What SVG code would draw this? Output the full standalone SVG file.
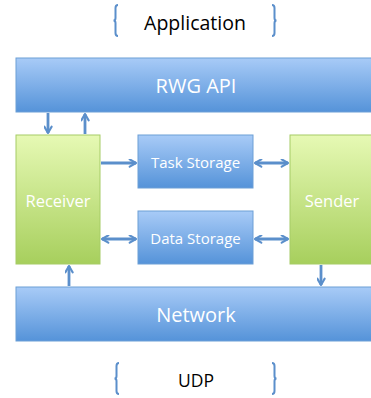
<svg xmlns="http://www.w3.org/2000/svg" width="371" height="398" viewBox="0 0 371 398">
<defs>
<linearGradient id="gb" x1="0" y1="0" x2="0" y2="1">
<stop offset="0" stop-color="#a8cbf7"/>
<stop offset="1" stop-color="#5593d9"/>
</linearGradient>
<linearGradient id="gg" x1="0" y1="0" x2="0" y2="1">
<stop offset="0" stop-color="#e6f9b4"/>
<stop offset="1" stop-color="#a7cf5d"/>
</linearGradient>
<marker id="ah" viewBox="0 0 10 10" refX="9" refY="5" markerWidth="9" markerHeight="9" orient="auto-start-reverse" markerUnits="userSpaceOnUse">
<path d="M2,1 L9,5 L2,9" fill="none" stroke="#5b8fcb" stroke-width="2.4" stroke-linecap="round" stroke-linejoin="round"/>
</marker>
</defs>
<style>
.blue{fill:url(#gb);stroke:#6d9fd6;stroke-width:1}
.green{fill:url(#gg);stroke:#a6cc66;stroke-width:1}
.wt{fill:#ffffff;font-family:"Open Sans","Liberation Sans",sans-serif;text-anchor:middle}
.bt{fill:#000000;font-family:"Open Sans","Liberation Sans",sans-serif;text-anchor:middle}
.brace{fill:none;stroke:#5b8fcb;stroke-width:2}
.conn{fill:none;stroke:#5b8fcb;stroke-width:2.8}
</style>
<g id="application">
<path class="brace" d="M118,5 Q115.5,5 115.5,8 L115.5,18 Q115.5,20.5 113.5,20.5 Q115.5,20.5 115.5,23 L115.5,33 Q115.5,36 118,36"/>
<text class="bt" x="195" y="30" font-size="19.5">Application</text>
<path class="brace" d="M272,5 Q274.5,5 274.5,8 L274.5,18 Q274.5,20.5 276.5,20.5 Q274.5,20.5 274.5,23 L274.5,33 Q274.5,36 272,36"/>
</g>
<g id="rwg-api">
<rect class="blue" x="16" y="58" width="360" height="54"/>
<text class="wt" x="196" y="93" font-size="20">RWG API</text>
</g>
<g id="receiver">
<rect class="green" x="16" y="135" width="84" height="129"/>
<text class="wt" x="58" y="207" font-size="16.5">Receiver</text>
</g>
<g id="task-storage">
<rect class="blue" x="138" y="135" width="115" height="53"/>
<text class="wt" x="195.5" y="168" font-size="15">Task Storage</text>
</g>
<g id="data-storage">
<rect class="blue" x="138" y="211" width="115" height="53"/>
<text class="wt" x="195.5" y="244" font-size="15">Data Storage</text>
</g>
<g id="sender">
<rect class="green" x="290" y="135" width="86" height="129"/>
<text class="wt" x="332" y="207" font-size="16.5">Sender</text>
</g>
<g id="network">
<rect class="blue" x="16" y="287" width="360" height="54"/>
<text class="wt" x="196" y="322" font-size="20">Network</text>
</g>
<g id="udp">
<path class="brace" d="M119,363 Q116.5,363 116.5,366 L116.5,376 Q116.5,378.5 114.5,378.5 Q116.5,378.5 116.5,381 L116.5,391 Q116.5,394 119,394"/>
<text class="bt" x="196" y="387" font-size="17.5">UDP</text>
<path class="brace" d="M272,363 Q274.5,363 274.5,366 L274.5,376 Q274.5,378.5 276.5,378.5 Q274.5,378.5 274.5,381 L274.5,391 Q274.5,394 272,394"/>
</g>
<g id="connectors">
<line class="conn" x1="48" y1="113" x2="48" y2="133" marker-end="url(#ah)"/>
<line class="conn" x1="85" y1="134" x2="85" y2="114" marker-end="url(#ah)"/>
<line class="conn" x1="101" y1="163" x2="136" y2="163" marker-end="url(#ah)"/>
<line class="conn" x1="255" y1="163" x2="288" y2="163" marker-start="url(#ah)" marker-end="url(#ah)"/>
<line class="conn" x1="102" y1="239" x2="136" y2="239" marker-start="url(#ah)" marker-end="url(#ah)"/>
<line class="conn" x1="255" y1="239" x2="288" y2="239" marker-start="url(#ah)" marker-end="url(#ah)"/>
<line class="conn" x1="69" y1="286" x2="69" y2="266" marker-end="url(#ah)"/>
<line class="conn" x1="321" y1="265" x2="321" y2="285" marker-end="url(#ah)"/>
</g>
</svg>
